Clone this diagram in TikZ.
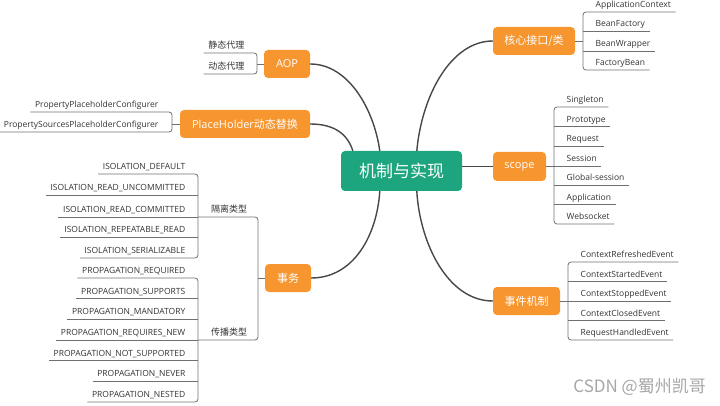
\documentclass[tikz,border=0pt]{standalone}
\usepackage{fontspec}
\setmainfont{Open Sans}
\newfontfamily\cjk{Noto Sans CJK SC}
\definecolor{orangeT}{HTML}{F7962F}
\definecolor{greenT}{HTML}{1CA57F}
\definecolor{leafgray}{HTML}{707070}
\definecolor{leaftext}{HTML}{333333}
\definecolor{mainline}{HTML}{474747}
\definecolor{wmark}{HTML}{A6A6A6}
\tikzset{
 topic/.style={fill=orangeT, rounded corners=4pt, inner sep=0pt, text=white, font=\cjk\fontsize{11}{13}\selectfont},
 central/.style={fill=greenT, rounded corners=4pt, inner sep=0pt, text=white, font=\cjk\fontsize{17}{20}\selectfont, minimum width=121pt, minimum height=40pt},
 leafL/.style={anchor=south east, inner xsep=4.5pt, inner ysep=1.7pt, text height=6pt, text depth=2.5pt, text=leaftext, font=\fontsize{8.5}{10}\selectfont},
 leafR/.style={leafL, anchor=south west},
 leafC/.style={leafL, font=\cjk\fontsize{9}{11}\selectfont},
 lline/.style={draw=leafgray, line width=0.8pt},
 bracket/.style={lline, rounded corners=3pt},
 branch/.style={draw=mainline, line width=1.4pt},
}
\begin{document}
\begin{tikzpicture}[x=1pt,y=-1pt]
\useasboundingbox (0,0) rectangle (720,406);

% ---------- main topics ----------
\node[central] (c) at (401.5,171) {机制与实现};
\node[topic, minimum width=46pt, minimum height=28pt] (aop) at (287,64) {\fontspec{Open Sans}AOP};
\node[topic, minimum width=130pt, minimum height=28pt] (ph) at (245,124) {{\fontspec{Open Sans}PlaceHolder}动态替换};
\node[topic, minimum width=46pt, minimum height=28pt] (tx) at (288,278) {事务};
\node[topic, minimum width=82pt, minimum height=28pt] (core) at (534,41) {核心接口/类};
\node[topic, minimum width=53pt, minimum height=29pt] (scope) at (519.5,166.5) {\fontspec{Open Sans}scope};
\node[topic, minimum width=67pt, minimum height=28pt] (ev) at (526.5,301) {事件机制};

% ---------- branches ----------
\draw[branch] (aop.east) .. controls +(38,0) and +(-6,-42) .. ([xshift=39pt]c.north west);
\draw[branch] (ph.east) .. controls +(25,0) and +(-5,-16) .. ([xshift=12pt]c.north west);
\draw[branch] (tx.east) .. controls +(42,0) and +(-3,45) .. ([xshift=39pt]c.south west);
\draw[branch] (core.west) .. controls +(-42,0) and +(5,-55) .. ([xshift=76pt]c.north west);
\draw[branch] (scope.west) -- (scope.west -| c.east);
\draw[branch] (ev.west) .. controls +(-45,0) and +(3,52) .. ([xshift=76pt]c.south west);

% ---------- AOP leaves ----------
\coordinate (sA) at (257,64);
\node[leafC] (a1) at (249,53) {静态代理};
\node[leafC] (a2) at (249,74) {动态代理};
\draw[bracket] (a1.south west) -- (sA |- a1.south) -- (sA |- a2.south) -- (a2.south west);
\draw[lline] (aop.west) -- (sA |- aop.west);

% ---------- PlaceHolder leaves ----------
\coordinate (sP) at (172,124);
\node[leafL] (p1) at (163,112) {PropertyPlaceholderConfigurer};
\node[leafL] (p2) at (163,132) {PropertySourcesPlaceholderConfigurer};
\draw[bracket] (p1.south west) -- (sP |- p1.south) -- (sP |- p2.south) -- (p2.south west);
\draw[lline] (ph.west) -- (sP |- ph.west);

% ---------- transaction ----------
\coordinate (sT) at (258,278);
\coordinate (sI) at (198,217);
\node[leafC, anchor=south west] (iso) at (206.5,217) {隔离类型};
\node[leafC, anchor=south west] (prop) at (206.5,340) {传播类型};
\draw[bracket] (sI |- iso.south) -- (sT |- iso.south) -- (sT |- prop.south) -- (sI |- prop.south);
\draw[lline] (tx.west) -- (sT |- tx.west);

\node[leafL] (i1) at (190,174) {ISOLATION\_DEFAULT};
\node[leafL] (i2) at (190,195) {ISOLATION\_READ\_UNCOMMITTED};
\node[leafL] (i3) at (190,217) {ISOLATION\_READ\_COMMITTED};
\node[leafL] (i4) at (190,237) {ISOLATION\_REPEATABLE\_READ};
\node[leafL] (i5) at (190,258) {ISOLATION\_SERIALIZABLE};
\draw[bracket] (i1.south west) -- (sI |- i1.south) -- (sI |- i5.south) -- (i5.south west);
\foreach \n in {i2,i3,i4} \draw[lline] (\n.south west) -- (sI |- \n.south);

\node[leafL] (q1) at (190,278) {PROPAGATION\_REQUIRED};
\node[leafL] (q2) at (190,298.7) {PROPAGATION\_SUPPORTS};
\node[leafL] (q3) at (190,319.3) {PROPAGATION\_MANDATORY};
\node[leafL] (q4) at (190,340) {PROPAGATION\_REQUIRES\_NEW};
\node[leafL] (q5) at (190,360.7) {PROPAGATION\_NOT\_SUPPORTED};
\node[leafL] (q6) at (190,381.3) {PROPAGATION\_NEVER};
\node[leafL] (q7) at (190,402) {PROPAGATION\_NESTED};
\draw[bracket] (q1.south west) -- (sI |- q1.south) -- (sI |- q7.south) -- (q7.south west);
\foreach \n in {q2,q3,q4,q5,q6} \draw[lline] (\n.south west) -- (sI |- \n.south);

% ---------- core leaves ----------
\coordinate (sC) at (583,41);
\node[leafR] (k1) at (591,12) {ApplicationContext};
\node[leafR] (k2) at (591,31) {BeanFactory};
\node[leafR] (k3) at (591,51) {BeanWrapper};
\node[leafR] (k4) at (591,70) {FactoryBean};
\draw[bracket] (k1.south east) -- (sC |- k1.south) -- (sC |- k4.south) -- (k4.south east);
\foreach \n in {k2,k3} \draw[lline] (\n.south east) -- (sC |- \n.south);
\draw[lline] (core.east) -- (sC |- core.east);

% ---------- scope leaves ----------
\coordinate (sS) at (554,166);
\node[leafR] (s1) at (562,107) {Singleton};
\node[leafR] (s2) at (562,126.5) {Prototype};
\node[leafR] (s3) at (562,146) {Request};
\node[leafR] (s4) at (562,166) {Session};
\node[leafR] (s5) at (562,185) {Global-session};
\node[leafR] (s6) at (562,204.5) {Application};
\node[leafR] (s7) at (562,224) {Websocket};
\draw[bracket] (s1.south east) -- (sS |- s1.south) -- (sS |- s7.south) -- (s7.south east);
\foreach \n in {s2,s3,s4,s5,s6} \draw[lline] (\n.south east) -- (sS |- \n.south);
\draw[lline] (scope.east) -- (sS |- scope.east);

% ---------- event leaves ----------
\coordinate (sE) at (568,301);
\node[leafR] (e1) at (576,262) {ContextRefreshedEvent};
\node[leafR] (e2) at (576,281.5) {ContextStartedEvent};
\node[leafR] (e3) at (576,301) {ContextStoppedEvent};
\node[leafR] (e4) at (576,320.5) {ContextClosedEvent};
\node[leafR] (e5) at (576,340) {RequestHandledEvent};
\draw[bracket] (e1.south east) -- (sE |- e1.south) -- (sE |- e5.south) -- (e5.south east);
\foreach \n in {e2,e3,e4} \draw[lline] (\n.south east) -- (sE |- \n.south);
\draw[lline] (ev.east) -- (sE |- ev.east);

% ---------- watermark ----------
\node[anchor=east, inner sep=0pt, text=wmark, font=\cjk\fontsize{17}{19}\selectfont] (wm) at (706,387) {CSDN @蜀州凯哥};
\end{tikzpicture}
\end{document}
